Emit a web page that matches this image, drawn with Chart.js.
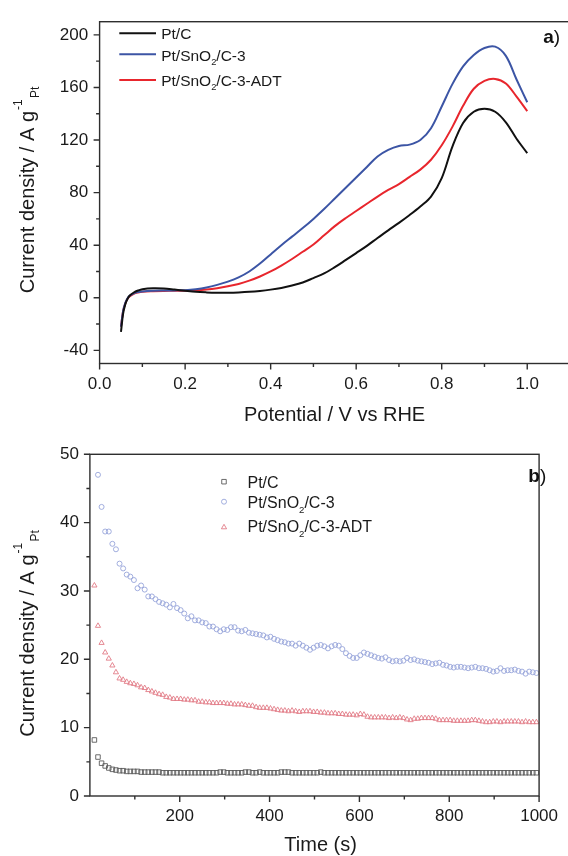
<!DOCTYPE html>
<html><head><meta charset="utf-8">
<script src="https://cdn.jsdelivr.net/npm/chart.js@4.4.1/dist/chart.umd.min.js"></script>
<style>
html,body{margin:0;padding:0;background:#fff;overflow:hidden;width:568px;height:856px;}
#c1{position:absolute;left:0;top:0;}
#c2{position:absolute;left:0;top:430px;}
</style></head><body>
<canvas id="c1" width="570" height="430"></canvas>
<canvas id="c2" width="568" height="426"></canvas>
<script>
const FONT = '"Liberation Sans", Arial, Helvetica, sans-serif';

// ---------- panel a) : linear sweep ----------
const seriesLabels = ['Pt/C', 'Pt/SnO2/C-3', 'Pt/SnO2/C-3-ADT'];
const potential = [0.05,0.055,0.06,0.065,0.07,0.08,0.09,0.1,0.125,0.15,0.175,0.2,0.225,0.25,0.275,0.3,0.325,0.35,0.375,0.4,0.425,0.45,0.475,0.5,0.525,0.55,0.575,0.6,0.625,0.65,0.675,0.7,0.725,0.75,0.775,0.8,0.825,0.85,0.875,0.9,0.925,0.95,0.975,1.0];
const lsvPtC = [-26,-12,-5,-1,1.5, 4,5.5,6.5,7.2,7.0, 6.2,5.3,4.5,4.1,3.9, 3.9,4.1,4.5,5.2,6.2, 7.5,9.3,11.6,15,18.5, 23.3,28.6,34,39.5,45.5, 51.3,57,63,69.5,77, 91,115,133,141.5,143.8, 141.5,133.5,121,110];
const lsvSnO2 = [-22,-10,-4,-0.5,1.5, 3.3,4.3,4.8,5.3,5.5, 5.6,5.8,6.5,7.8,9.8, 12.3,15.5,20,26,33, 40,46.5,53,60,67.5, 75.5,83.5,91.5,99.5,107.5, 112.5,115.5,116.5,120,129, 145.5,162.5,176,184.7,190, 191,184,166,148.7];
const lsvSnO2ADT = [-22,-10,-4.5,-1,1, 3,4,4.6,5.0,5.2, 5.3,5.4,5.7,6.3,7.3, 8.7,10.5,13,16.2,20, 24.5,29.5,35,40.5,47.5, 54.5,60.5,66,71.5,77, 82,86.5,92,97.5,105, 116,130,146,159,165, 166.5,163,153,142];
const xTicksA = [0.0,0.2,0.4,0.6,0.8,1.0];
const xMinorA = [0.1,0.3,0.5,0.7,0.9];
const yTicksA = [-40,0,40,80,120,160,200];
const yMinorA = [-20,20,60,100,140,180];

// ---------- panel b) : chronoamperometry ----------
const timeS = [10,18,26,34,42,50,58,66,74,82,
 90,98,106,114,122,130,138,146,154,162,
 170,178,186,194,202,210,218,226,234,242,
 250,258,266,274,282,290,298,306,314,322,
 330,338,346,354,362,370,378,386,394,402,
 410,418,426,434,442,450,458,466,474,482,
 490,498,506,514,522,530,538,546,554,562,
 570,578,586,594,602,610,618,626,634,642,
 650,658,666,674,682,690,698,706,714,722,
 730,738,746,754,762,770,778,786,794,802,
 810,818,826,834,842,850,858,866,874,882,
 890,898,906,914,922,930,938,946,954,962,
 970,978,986,994];
const caPtC = [8.2,5.7,4.8,4.4,4.1,3.9,3.8,3.7,3.7,3.6,
 3.6,3.6,3.6,3.5,3.5,3.5,3.5,3.5,3.5,3.4,
 3.4,3.4,3.4,3.4,3.4,3.4,3.4,3.4,3.4,3.4,
 3.4,3.4,3.4,3.4,3.4,3.5,3.5,3.4,3.4,3.4,
 3.4,3.4,3.5,3.5,3.4,3.4,3.5,3.4,3.4,3.4,
 3.4,3.4,3.5,3.5,3.5,3.4,3.4,3.4,3.4,3.4,
 3.4,3.4,3.4,3.5,3.4,3.4,3.4,3.4,3.4,3.4,
 3.4,3.4,3.4,3.4,3.4,3.4,3.4,3.4,3.4,3.4,
 3.4,3.4,3.4,3.4,3.4,3.4,3.4,3.4,3.4,3.4,
 3.4,3.4,3.4,3.4,3.4,3.4,3.4,3.4,3.4,3.4,
 3.4,3.4,3.4,3.4,3.4,3.4,3.4,3.4,3.4,3.4,
 3.4,3.4,3.4,3.4,3.4,3.4,3.4,3.4,3.4,3.4,
 3.4,3.4,3.4,3.4];
const caSnO2 = [null,47.0,42.3,38.7,38.7,36.9,36.1,34.0,33.3,32.4,
 32.1,31.6,30.4,30.8,30.2,29.2,29.2,28.8,28.4,28.2,
 28.0,27.6,28.1,27.5,27.2,26.7,26.0,26.3,25.7,25.7,
 25.4,25.3,24.8,24.8,24.4,24.1,24.4,24.3,24.7,24.7,
 24.2,24.1,24.3,23.9,23.8,23.7,23.6,23.5,23.2,23.3,
 23.0,22.8,22.6,22.5,22.3,22.3,22.0,22.3,22.0,21.7,
 21.4,21.7,22.0,22.1,21.9,21.6,21.9,22.1,22.0,21.5,
 20.9,20.5,20.2,20.2,20.6,21.0,20.8,20.6,20.4,20.2,
 20.1,20.3,19.9,19.7,19.8,19.7,19.8,20.2,19.9,20.0,
 19.8,19.7,19.6,19.5,19.3,19.4,19.5,19.2,19.1,18.9,
 18.8,18.9,18.9,18.8,18.7,18.8,18.9,18.7,18.7,18.6,
 18.4,18.2,18.3,18.7,18.3,18.4,18.4,18.5,18.3,18.2,
 17.9,18.2,18.1,18.0];
const caSnO2ADT = [30.8,24.9,22.4,21.0,20.1,19.1,18.1,17.2,17.0,16.7,
 16.5,16.4,16.2,15.9,15.8,15.5,15.3,15.1,14.9,14.8,
 14.5,14.4,14.2,14.2,14.2,14.1,14.1,14.0,14.0,13.8,
 13.8,13.7,13.7,13.6,13.6,13.6,13.6,13.5,13.5,13.4,
 13.4,13.4,13.3,13.2,13.2,13.0,12.9,12.9,12.9,12.8,
 12.7,12.6,12.5,12.5,12.4,12.5,12.4,12.3,12.4,12.4,
 12.4,12.3,12.3,12.2,12.2,12.1,12.1,12.1,12.0,12.0,
 11.9,11.9,11.9,11.8,12.0,11.9,11.6,11.5,11.5,11.5,
 11.5,11.5,11.4,11.5,11.4,11.5,11.4,11.2,11.1,11.3,
 11.3,11.4,11.4,11.4,11.4,11.3,11.1,11.1,11.1,11.1,
 11.0,11.0,11.0,11.0,11.0,11.1,11.1,11.0,10.9,10.8,
 10.8,10.9,10.9,10.8,10.9,10.9,10.9,10.9,10.9,10.8,
 10.9,10.8,10.8,10.8];
const xTicksB = [200,400,600,800,1000];
const xMinorB = [100,300,500,700,900];
const yTicksB = [0,10,20,30,40,50];
const yMinorB = [5,15,25,35,45];

const lineColors = ['#111111', '#3c55a5', '#e8262d'];
const markerColors = ['#5a5a5a', '#97a5da', '#e27c87'];
const markerStyles = ['rect', 'circle', 'triangle'];

// ---------- helpers ----------
function richParts(label) { return label.split(/(?<=SnO)(2)/); }
function drawRich(ctx, label, x, y, size, color) {
  const parts = richParts(label);
  ctx.fillStyle = color; ctx.textAlign = 'left'; ctx.textBaseline = 'alphabetic';
  let cx = x;
  parts.forEach((p, i) => {
    if (i % 2 === 1) {
      ctx.font = (size * 0.6) + 'px ' + FONT;
      ctx.fillText(p, cx, y + size * 0.28);
    } else {
      ctx.font = size + 'px ' + FONT;
      ctx.fillText(p, cx, y);
    }
    cx += ctx.measureText(p).width;
  });
}
function drawMarker(ctx, style, r, x, y) {
  ctx.beginPath();
  if (style === 'rect') { const s = r * Math.SQRT1_2; ctx.rect(x - s, y - s, 2 * s, 2 * s); }
  else if (style === 'circle') { ctx.arc(x, y, r, 0, Math.PI * 2); }
  else { for (let k = 0; k < 3; k++) { const a = k * 2 * Math.PI / 3; const px = x + Math.sin(a) * r, py = y - Math.cos(a) * r; k ? ctx.lineTo(px, py) : ctx.moveTo(px, py); } ctx.closePath(); }
  ctx.stroke();
}
function drawYTitle(ctx, xb, ys) {
  ctx.save();
  ctx.translate(xb, ys); ctx.rotate(-Math.PI / 2);
  ctx.fillStyle = '#1a1a1a'; ctx.textAlign = 'left'; ctx.textBaseline = 'alphabetic';
  ctx.font = '20px ' + FONT;
  const main = 'Current density / A g';
  ctx.fillText(main, 0, 0);
  const w = ctx.measureText(main).width;
  ctx.font = '12px ' + FONT;
  ctx.fillText('-1', w + 1, -12);
  ctx.fillText('Pt', w + 13, 5);
  ctx.restore();
}

const decor = {
  id: 'decor',
  afterDraw(chart, args, o) {
    const ctx = chart.ctx, a = chart.chartArea, sx = chart.scales.x, sy = chart.scales.y;
    ctx.save();
    ctx.strokeStyle = '#2e2e2e'; ctx.lineWidth = 1.4;
    ctx.strokeRect(a.left, a.top, a.right - a.left, a.bottom - a.top);
    ctx.beginPath();
    o.xMajor.forEach(v => { const p = sx.getPixelForValue(v); ctx.moveTo(p, a.bottom); ctx.lineTo(p, a.bottom + 6); });
    o.xMinor.forEach(v => { const p = sx.getPixelForValue(v); ctx.moveTo(p, a.bottom); ctx.lineTo(p, a.bottom + 3.5); });
    o.yMajor.forEach(v => { const p = sy.getPixelForValue(v); ctx.moveTo(a.left, p); ctx.lineTo(a.left - 6, p); });
    o.yMinor.forEach(v => { const p = sy.getPixelForValue(v); ctx.moveTo(a.left, p); ctx.lineTo(a.left - 3.5, p); });
    ctx.stroke();
    drawYTitle(ctx, o.yTitle[0], o.yTitle[1]);
    ctx.fillStyle = '#1a1a1a'; ctx.font = '20px ' + FONT; ctx.textAlign = 'center'; ctx.textBaseline = 'alphabetic';
    ctx.fillText(o.xTitle[0], o.xTitle[1], o.xTitle[2]);
    seriesLabels.forEach((lab, i) => {
      const L = o.legend;
      if (L.kind === 'line') {
        ctx.strokeStyle = lineColors[i]; ctx.lineWidth = 2;
        ctx.beginPath(); ctx.moveTo(L.x0, L.ys[i]); ctx.lineTo(L.x1, L.ys[i]); ctx.stroke();
      } else {
        ctx.strokeStyle = markerColors[i]; ctx.lineWidth = 0.9;
        drawMarker(ctx, markerStyles[i], L.r[i], L.x0, L.ys[i]);
      }
      drawRich(ctx, lab, L.tx, L.tb[i], L.size, '#1a1a1a');
    });
    ctx.fillStyle = '#111'; ctx.textAlign = 'left';
    ctx.font = 'bold 19px ' + FONT; ctx.fillText(o.panel[0], o.panel[1], o.panel[2]);
    const w = ctx.measureText(o.panel[0]).width;
    ctx.font = '19px ' + FONT; ctx.fillText(')', o.panel[1] + w, o.panel[2]);
    ctx.restore();
  }
};

const tickFont = { family: FONT, size: 17 };
function setTicks(arr) { return s => { s.ticks = arr.map(v => ({ value: v })); }; }

new Chart(document.getElementById('c1'), {
  type: 'line',
  data: {
    datasets: [lsvPtC, lsvSnO2, lsvSnO2ADT].map((arr, i) => ({
      label: seriesLabels[i],
      data: potential.map((v, k) => ({ x: v, y: arr[k] })),
      borderColor: lineColors[i], borderWidth: 2, pointRadius: 0,
      tension: 0.35, fill: false
    }))
  },
  options: {
    responsive: false, animation: false, devicePixelRatio: 1,
    layout: { padding: { top: 14.7, right: 0, left: 0, bottom: 0 } },
    plugins: {
      legend: { display: false }, tooltip: { enabled: false },
      decor: {
        xMajor: xTicksA, xMinor: xMinorA, yMajor: yTicksA, yMinor: yMinorA,
        yTitle: [33.5, 293.3], xTitle: ['Potential / V vs RHE', 334.6, 420.5],
        legend: { kind: 'line', x0: 119.3, x1: 156, ys: [33.3, 54.3, 80], tx: 161.2, tb: [39.3, 60.7, 86], size: 15.5 },
        panel: ['a', 543.3, 42.5]
      }
    },
    scales: {
      x: {
        type: 'linear', min: 0, max: 1.1,
        afterBuildTicks: setTicks(xTicksA), afterFit: s => { s.height = 66.5; },
        grid: { display: false, drawTicks: false }, border: { display: false },
        ticks: { font: tickFont, color: '#1a1a1a', padding: 10.5, maxRotation: 0, autoSkip: false, callback: v => Number(v).toFixed(1) }
      },
      y: {
        type: 'linear', min: -50, max: 210,
        afterBuildTicks: setTicks(yTicksA), afterFit: s => { s.width = 99.6; },
        grid: { display: false, drawTicks: false }, border: { display: false },
        ticks: { font: tickFont, color: '#1a1a1a', padding: 11.5, autoSkip: false, callback: v => String(v) }
      }
    }
  },
  plugins: [decor]
});

new Chart(document.getElementById('c2'), {
  type: 'scatter',
  data: {
    datasets: [caPtC, caSnO2, caSnO2ADT].map((arr, i) => ({
      label: seriesLabels[i],
      data: timeS.map((t, k) => ({ x: t, y: arr[k] })).filter(p => p.y !== null),
      pointStyle: markerStyles[i],
      pointRadius: [3.2, 2.5, 3.0][i],
      borderColor: markerColors[i], backgroundColor: 'rgba(0,0,0,0)', borderWidth: 0.9,
      showLine: false
    }))
  },
  options: {
    responsive: false, animation: false, devicePixelRatio: 1,
    layout: { padding: { top: 24.3, right: 16.7, left: 0, bottom: 0 } },
    plugins: {
      legend: { display: false }, tooltip: { enabled: false },
      decor: {
        xMajor: xTicksB, xMinor: xMinorB, yMajor: yTicksB, yMinor: yMinorB,
        yTitle: [34, 306.7], xTitle: ['Time (s)', 320.6, 421],
        legend: { kind: 'marker', x0: 224, r: [3.2, 2.5, 3.0], ys: [51.7, 71.7, 97.3], tx: 247.5, tb: [57.7, 78.3, 102.3], size: 16 },
        panel: ['b', 528.3, 51.7]
      }
    },
    scales: {
      x: {
        type: 'linear', min: 0, max: 1000,
        afterBuildTicks: setTicks(xTicksB), afterFit: s => { s.height = 60; },
        grid: { display: false, drawTicks: false }, border: { display: false },
        ticks: { font: tickFont, color: '#1a1a1a', padding: 10, maxRotation: 0, autoSkip: false, callback: v => String(v) }
      },
      y: {
        type: 'linear', min: 0, max: 50,
        afterBuildTicks: setTicks(yTicksB), afterFit: s => { s.width = 89.9; },
        grid: { display: false, drawTicks: false }, border: { display: false },
        ticks: { font: tickFont, color: '#1a1a1a', padding: 11, autoSkip: false, callback: v => String(v) }
      }
    }
  },
  plugins: [decor]
});
</script>
</body></html>
